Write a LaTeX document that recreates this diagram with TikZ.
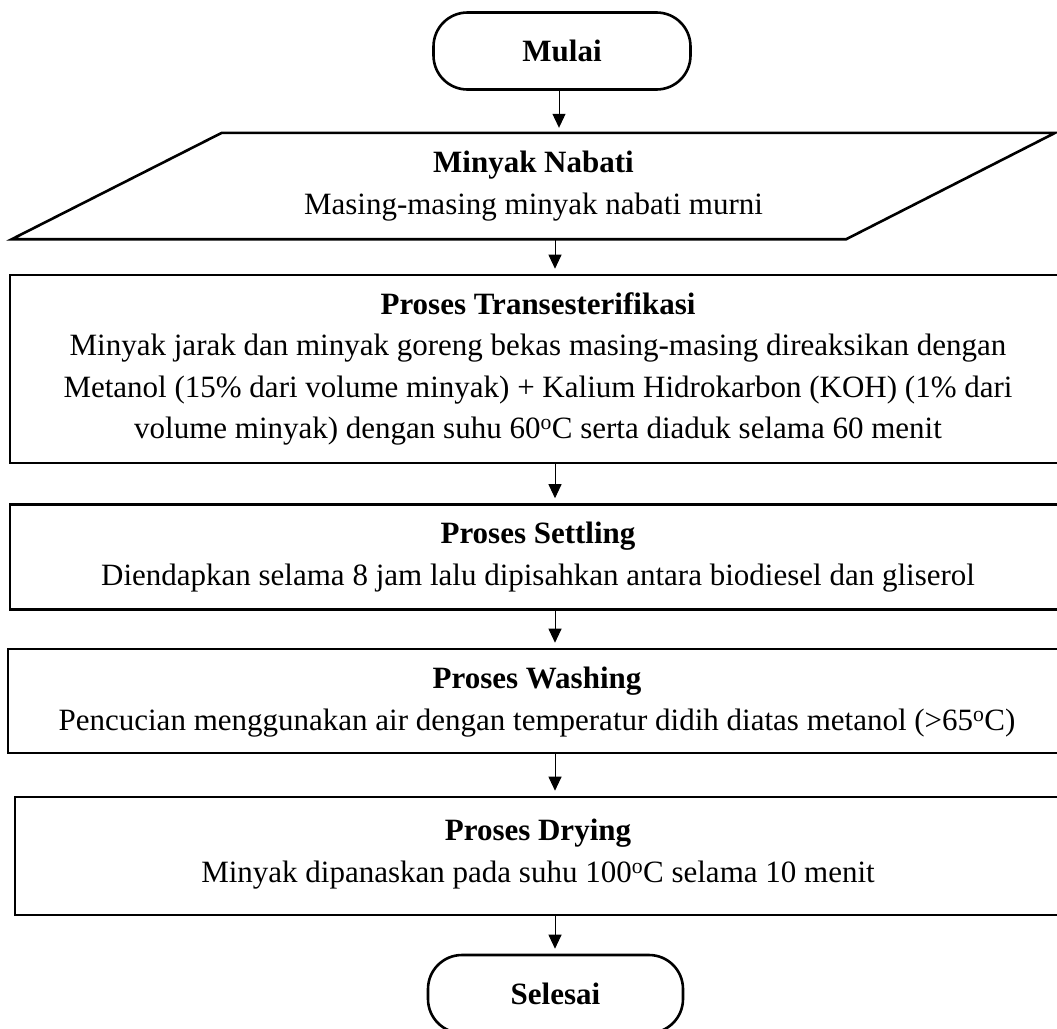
\documentclass[tikz,border=0pt]{standalone}
\usepackage{fontspec}
\setmainfont{Liberation Serif}
\usetikzlibrary{arrows.meta}
\begin{document}
\begin{tikzpicture}[x=1pt,y=-1pt,
  box/.style={draw, line width=2.6pt},
  txt/.style={align=center, font=\fontsize{31}{41.5}\selectfont, inner sep=0pt},
  arr/.style={-{Triangle[width=13pt,length=14pt]}, line width=1pt, shorten >=5pt}]
\useasboundingbox (0,0) rectangle (1057,1028);
\coordinate (ax) at (555,0);
% terminator start
\node[box, txt, rounded corners=34pt, minimum width=257pt, minimum height=77pt] (mulai) at (562,51) {\textbf{Mulai}};
% parallelogram
\node[txt, minimum width=1043pt, minimum height=106pt] (para) at (533.5,186) {\textbf{Minyak Nabati}\\Masing-masing minyak nabati murni};
\draw[box, line join=miter] ([xshift=210pt]para.north west) -- (para.north east) -- ([xshift=-209pt]para.south east) -- (para.south west) -- cycle;
% process boxes
\node[box, txt, minimum width=1056pt, minimum height=188pt] (trans) at (538,369)
  {\textbf{Proses Transesterifikasi}\\Minyak jarak dan minyak goreng bekas masing-masing direaksikan dengan\\Metanol (15\% dari volume minyak) + Kalium Hidrokarbon (KOH) (1\% dari\\volume minyak) dengan suhu 60\textsuperscript{o}C serta diaduk selama 60 menit};
\node[box, txt, minimum width=1056pt, minimum height=105pt] (settle) at (538,557)
  {\textbf{Proses Settling}\\Diendapkan selama 8 jam lalu dipisahkan antara biodiesel dan gliserol};
\node[box, minimum width=1058pt, minimum height=104pt] (wash) at (537,701) {};
\node[txt] (washtxt) at (537,702)
  {\textbf{Proses Washing}\\Pencucian menggunakan air dengan temperatur didih diatas metanol (>65\textsuperscript{o}C)};
\node[box, minimum width=1052pt, minimum height=118pt] (dry) at (541,856) {};
\node[txt] (drytxt) at (538,854)
  {\textbf{Proses Drying}\\Minyak dipanaskan pada suhu 100\textsuperscript{o}C selama 10 menit};
% terminator end
\node[box, txt, rounded corners=34pt, minimum width=255pt, minimum height=78pt] (selesai) at (555.5,994) {\textbf{Selesai}};
% connectors
\draw[arr] (mulai.south -| 559,0) -- (para.north -| 559,0);
\draw[arr] (para.south -| ax) -- (trans.north -| ax);
\draw[arr] (trans.south -| ax) -- (settle.north -| ax);
\draw[arr] (settle.south -| ax) -- (wash.north -| ax);
\draw[arr] (wash.south -| ax) -- (dry.north -| ax);
\draw[arr] (dry.south -| ax) -- (selesai.north -| ax);
\end{tikzpicture}
\end{document}
